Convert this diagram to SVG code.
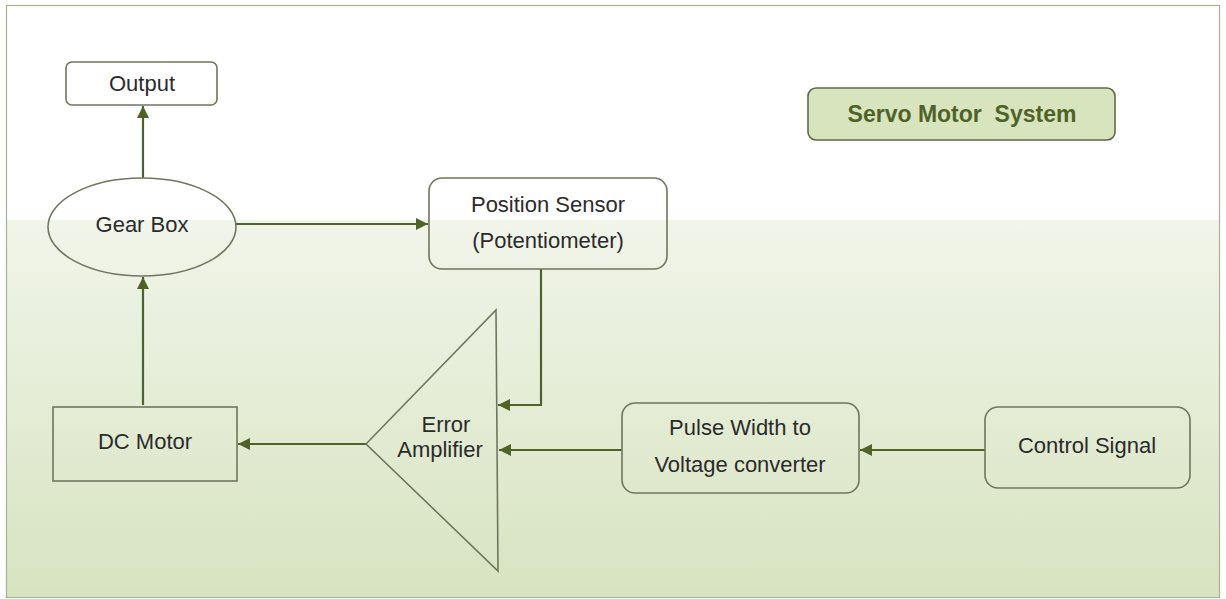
<svg xmlns="http://www.w3.org/2000/svg" width="1226" height="599" viewBox="0 0 1226 599">
  <defs>
    <linearGradient id="bgGrad" x1="0" y1="0" x2="0" y2="1">
      <stop offset="0" stop-color="#f1f5ea"/>
      <stop offset="1" stop-color="#d7e3c0"/>
    </linearGradient>
    <marker id="arrow" viewBox="0 0 10 10" refX="10" refY="5" markerWidth="12" markerHeight="12" markerUnits="userSpaceOnUse" orient="auto">
      <path d="M0,0 L10,5 L0,10 Z" fill="#4f6228"/>
    </marker>
    <style>
      .node { fill: none; stroke: #6f765e; stroke-width: 1.6; }
      .label { font-family: "Liberation Sans", Arial, sans-serif; font-size: 22px; fill: #2b2b2b; text-anchor: middle; }
      .conn { fill: none; stroke: #4f6228; stroke-width: 2.2; marker-end: url(#arrow); }
      .title { font-family: "Liberation Sans", Arial, sans-serif; font-size: 23px; font-weight: bold; fill: #4f6228; text-anchor: middle; white-space: pre; }
    </style>
  </defs>

  <!-- page background and frame -->
  <rect x="0" y="0" width="1226" height="599" fill="#ffffff"/>
  <rect x="7" y="220" width="1213" height="377" fill="url(#bgGrad)"/>
  <rect x="6.5" y="5.5" width="1213" height="592" fill="none" stroke="#a7b295" stroke-width="1.2"/>

  <!-- title badge -->
  <g id="title">
    <rect x="808" y="88" width="307" height="52" rx="8" fill="#d8e4bd" stroke="#5f6a4b" stroke-width="1.6"/>
    <text class="title" x="962" y="122" xml:space="preserve">Servo Motor  System</text>
  </g>

  <!-- connectors -->
  <g id="connectors">
    <line class="conn" x1="143" y1="178" x2="143" y2="106"/>
    <line class="conn" x1="143" y1="405" x2="143" y2="277"/>
    <line class="conn" x1="236" y1="224" x2="428" y2="224"/>
    <polyline class="conn" points="541,269 541,405 498,405"/>
    <line class="conn" x1="622" y1="450" x2="499" y2="450"/>
    <line class="conn" x1="985" y1="450" x2="860" y2="450"/>
    <line class="conn" x1="366" y1="444" x2="238" y2="444"/>
  </g>

  <g id="output">
    <rect class="node" x="66" y="62" width="151" height="43" rx="6" fill="#ffffff"/>
    <text class="label" x="142" y="91">Output</text>
  </g>

  <g id="gearbox">
    <ellipse class="node" cx="142" cy="227" rx="94" ry="49"/>
    <text class="label" x="142" y="232">Gear Box</text>
  </g>

  <g id="position-sensor">
    <rect class="node" x="429" y="178" width="238" height="91" rx="13"/>
    <text class="label" x="548" y="212">Position Sensor</text>
    <text class="label" x="548" y="248">(Potentiometer)</text>
  </g>

  <g id="error-amplifier">
    <polygon class="node" points="366,444 496,310 498,571"/>
    <text class="label" x="446" y="432">Error</text>
    <text class="label" x="440" y="457">Amplifier</text>
  </g>

  <g id="dc-motor">
    <rect class="node" x="53" y="407" width="184" height="74"/>
    <text class="label" x="145" y="449">DC Motor</text>
  </g>

  <g id="pwm-converter">
    <rect class="node" x="622" y="403" width="237" height="90" rx="13"/>
    <text class="label" x="740" y="435">Pulse Width to</text>
    <text class="label" x="740" y="472">Voltage converter</text>
  </g>

  <g id="control-signal">
    <rect class="node" x="985" y="407" width="205" height="81" rx="13"/>
    <text class="label" x="1087" y="453">Control Signal</text>
  </g>
</svg>
